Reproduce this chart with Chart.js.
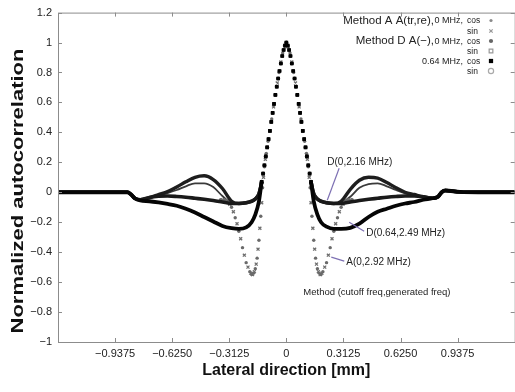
<!DOCTYPE html>
<html>
<head>
<meta charset="utf-8">
<script src="https://cdn.jsdelivr.net/npm/chart.js@4.4.1/dist/chart.umd.min.js"></script>
<style>
  html, body { margin: 0; padding: 0; background: #fff; overflow: hidden; }
  #wrap { width: 520px; height: 392px; position: relative; }
</style>
</head>
<body>
<div id="wrap"><canvas id="chart"></canvas></div>
<script>
// tick labels
const xTickVals = [-0.9375, -0.625, -0.3125, 0, 0.3125, 0.625, 0.9375];
const xTickLabels = ['\u22120.9375', '\u22120.6250', '\u22120.3125', '0', '0.3125', '0.6250', '0.9375'];
const yTickVals = [-1, -0.8, -0.6, -0.4, -0.2, 0, 0.2, 0.4, 0.6, 0.8, 1, 1.2];
const yTickLabels = ['\u22121', '\u22120.8', '\u22120.6', '\u22120.4', '\u22120.2', '0', '0.2', '0.4', '0.6', '0.8', '1', '1.2'];

// Method A, cos (lateral positions in mm)
const xAcos = [-0.36, -0.34, -0.32, -0.3, -0.28, -0.26, -0.24, -0.22, -0.2, -0.19, -0.18, -0.17, -0.16, -0.15, -0.14, -0.13, -0.12, -0.11, -0.1, -0.08, -0.06, -0.04, -0.02,
  0, 0.02, 0.04, 0.06, 0.08, 0.1, 0.11, 0.12, 0.13, 0.14, 0.15, 0.16, 0.17, 0.18, 0.19, 0.2, 0.22, 0.24, 0.26, 0.28, 0.3, 0.32, 0.34, 0.36];
const aCos = [-0.05, -0.05, -0.065, -0.1, -0.17, -0.26, -0.37, -0.47, -0.53, -0.55, -0.54, -0.51, -0.44, -0.32, -0.16, 0.03, 0.17, 0.26, 0.34, 0.49, 0.65, 0.8, 0.93,
  1.0, 0.93, 0.8, 0.65, 0.49, 0.34, 0.26, 0.17, 0.03, -0.16, -0.32, -0.44, -0.51, -0.54, -0.55, -0.53, -0.47, -0.37, -0.26, -0.17, -0.1, -0.065, -0.05, -0.05];

// Method A, sin
const xAsin = [-0.35, -0.33, -0.31, -0.29, -0.27, -0.25, -0.23, -0.21, -0.195, -0.185, -0.175, -0.165, -0.155, -0.145, -0.135, -0.125, -0.115, -0.105, -0.09, -0.07, -0.05, -0.03, -0.01,
  0.01, 0.03, 0.05, 0.07, 0.09, 0.105, 0.115, 0.125, 0.135, 0.145, 0.155, 0.165, 0.175, 0.185, 0.195, 0.21, 0.23, 0.25, 0.27, 0.29, 0.31, 0.33, 0.35];
const aSin = [-0.05, -0.055, -0.08, -0.13, -0.21, -0.31, -0.42, -0.5, -0.54, -0.55, -0.53, -0.48, -0.38, -0.24, -0.07, 0.1, 0.22, 0.3, 0.41, 0.57, 0.73, 0.87, 0.97,
  0.97, 0.87, 0.73, 0.57, 0.41, 0.3, 0.22, 0.1, -0.07, -0.24, -0.38, -0.48, -0.53, -0.55, -0.54, -0.5, -0.42, -0.31, -0.21, -0.13, -0.08, -0.055, -0.05];

// Method D curves share one set of positions (denser in the main lobe)
const xD = [-1.25, -1.15, -1.05, -0.95, -0.87, -0.85, -0.83, -0.8, -0.75, -0.7, -0.65, -0.6, -0.55, -0.5, -0.45, -0.4, -0.35, -0.3, -0.26, -0.22, -0.19, -0.17, -0.15,
  -0.135, -0.1275, -0.12, -0.1125, -0.105, -0.0975, -0.09, -0.0825, -0.075, -0.0675, -0.06, -0.0525, -0.045, -0.0375, -0.03, -0.0225, -0.015, -0.0075,
  0, 0.0075, 0.015, 0.0225, 0.03, 0.0375, 0.045, 0.0525, 0.06, 0.0675, 0.075, 0.0825, 0.09, 0.0975, 0.105, 0.1125, 0.12, 0.1275, 0.135,
  0.15, 0.17, 0.19, 0.22, 0.26, 0.3, 0.35, 0.4, 0.45, 0.5, 0.55, 0.6, 0.65, 0.7, 0.75, 0.8, 0.83, 0.85, 0.87, 0.95, 1.05, 1.15, 1.25];

const d0Cos = [0, 0, 0, 0, 0, -0.015, -0.04, -0.05, -0.035, -0.027, -0.025, -0.028, -0.033, -0.04, -0.047, -0.055, -0.065, -0.075, -0.075, -0.07, -0.06, -0.045, -0.01,
  0.07, 0.125, 0.18, 0.24, 0.3, 0.355, 0.41, 0.47, 0.53, 0.59, 0.65, 0.705, 0.76, 0.81, 0.86, 0.91, 0.95, 0.98,
  1.0, 0.98, 0.95, 0.91, 0.86, 0.81, 0.76, 0.705, 0.65, 0.59, 0.53, 0.47, 0.41, 0.355, 0.3, 0.24, 0.18, 0.125, 0.07,
  -0.01, -0.045, -0.06, -0.07, -0.075, -0.075, -0.065, -0.055, -0.047, -0.04, -0.033, -0.028, -0.025, -0.025, -0.03, -0.04, -0.03, 0.0, 0.012, 0.002, 0, 0, 0];

const d0Sin = [0, 0, 0, 0, 0, -0.015, -0.04, -0.05, -0.035, -0.015, 0.005, 0.035, 0.07, 0.1, 0.11, 0.085, 0.025, -0.06, -0.075, -0.07, -0.06, -0.045, -0.01,
  0.07, 0.125, 0.18, 0.24, 0.3, 0.355, 0.41, 0.47, 0.53, 0.59, 0.65, 0.705, 0.76, 0.81, 0.86, 0.91, 0.95, 0.98,
  1.0, 0.98, 0.95, 0.91, 0.86, 0.81, 0.76, 0.705, 0.65, 0.59, 0.53, 0.47, 0.41, 0.355, 0.3, 0.24, 0.18, 0.125, 0.07,
  -0.01, -0.045, -0.06, -0.07, -0.075, -0.06, 0.02, 0.08, 0.1, 0.095, 0.065, 0.03, 0.0, -0.015, -0.03, -0.04, -0.03, 0.0, 0.012, 0.002, 0, 0, 0];

const d064Cos = [0, 0, 0, 0, 0, -0.015, -0.04, -0.055, -0.06, -0.068, -0.078, -0.09, -0.11, -0.135, -0.165, -0.195, -0.225, -0.24, -0.245, -0.235, -0.2, -0.15, -0.06,
  0.07, 0.125, 0.18, 0.24, 0.3, 0.355, 0.41, 0.47, 0.53, 0.59, 0.65, 0.705, 0.76, 0.81, 0.86, 0.91, 0.95, 0.98,
  1.0, 0.98, 0.95, 0.91, 0.86, 0.81, 0.76, 0.705, 0.65, 0.59, 0.53, 0.47, 0.41, 0.355, 0.3, 0.24, 0.18, 0.125, 0.07,
  -0.06, -0.15, -0.2, -0.23, -0.245, -0.245, -0.238, -0.21, -0.165, -0.13, -0.11, -0.09, -0.075, -0.065, -0.05, -0.04, -0.03, 0.0, 0.012, 0.002, 0, 0, 0];

const d064Sin = [0, 0, 0, 0, 0, -0.015, -0.04, -0.05, -0.035, -0.02, -0.005, 0.015, 0.04, 0.06, 0.06, 0.035, -0.025, -0.07, -0.075, -0.07, -0.06, -0.045, -0.01,
  0.07, 0.125, 0.18, 0.24, 0.3, 0.355, 0.41, 0.47, 0.53, 0.59, 0.65, 0.705, 0.76, 0.81, 0.86, 0.91, 0.95, 0.98,
  1.0, 0.98, 0.95, 0.91, 0.86, 0.81, 0.76, 0.705, 0.65, 0.59, 0.53, 0.47, 0.41, 0.355, 0.3, 0.24, 0.18, 0.125, 0.07,
  -0.01, -0.045, -0.06, -0.07, -0.075, -0.07, -0.03, 0.03, 0.055, 0.06, 0.04, 0.015, -0.008, -0.02, -0.03, -0.04, -0.03, 0.0, 0.012, 0.002, 0, 0, 0];

const seriesNames = ['Method A A(tr,re),0 MHz, cos', 'sin', 'Method D A(\u2212),0 MHz, cos', 'sin', '0.64 MHz, cos', 'sin'];

const FONT = '"Liberation Sans", Arial, Helvetica, sans-serif';
const LOBE = 0.136;

const pts = (xs, ys) => xs.map((x, i) => ({ x: x, y: ys[i] }));
const hideLobe = c => (Math.abs(c.p0.parsed.x) <= LOBE && Math.abs(c.p1.parsed.x) <= LOBE) ? 'rgba(0,0,0,0)' : undefined;

// markers only inside the main lobe, the rest is drawn as a thick line
function lineSet(label, xs, ys, color, width, dotColor, dotStyle, dotR, order) {
  return {
    label: label,
    order: order,
    data: pts(xs, ys),
    showLine: true,
    borderColor: color,
    borderWidth: width,
    cubicInterpolationMode: 'monotone',
    segment: { borderColor: hideLobe },
    pointStyle: dotStyle,
    pointRadius: xs.map(x => Math.abs(x) <= LOBE ? dotR : 0),
    pointBackgroundColor: dotColor,
    pointBorderColor: dotColor,
    pointBorderWidth: 0
  };
}

// legend rows: big text, small text, component, marker
const legendRows = [
  { big: 'Method A A(tr,re),', small: '0 MHz,', comp: 'cos', style: 'circle', r: 1.6, fill: '#8a8a8a', stroke: null },
  { big: '', small: '', comp: 'sin', style: 'crossRot', r: 2.4, fill: null, stroke: '#999' },
  { big: 'Method D A(\u2212),', small: '0 MHz,', comp: 'cos', style: 'circle', r: 2.1, fill: '#666', stroke: null },
  { big: '', small: '', comp: 'sin', style: 'rect', r: 2.6, fill: '#fff', stroke: '#999' },
  { big: '', small: '0.64 MHz,', comp: 'cos', style: 'rect', r: 3, fill: '#000', stroke: null },
  { big: '', small: '', comp: 'sin', style: 'circle', r: 2.6, fill: '#fff', stroke: '#aaa' }
];

const notes = [
  { text: 'D(0,2.16 MHz)', x: 0.224, y: 0.2, from: [0.289, 0.16], to: [0.224, -0.053] },
  { text: 'D(0.64,2.49 MHz)', x: 0.437, y: -0.273, from: [0.426, -0.26], to: [0.344, -0.2] },
  { text: 'A(0,2.92 MHz)', x: 0.328, y: -0.467, from: [0.317, -0.46], to: [0.246, -0.433] },
  { text: 'Method (cutoff freq,generated freq)', x: 0.093, y: -0.667 }
];

const overlay = {
  id: 'overlay',
  afterDraw(chart) {
    const { ctx, chartArea: a, scales: { x, y } } = chart;
    ctx.save();

    // frame and inward ticks
    ctx.strokeStyle = '#8c8c8c';
    ctx.lineWidth = 1;
    ctx.strokeRect(a.left + 0.5, a.top + 0.5, a.right - a.left, a.bottom - a.top);
    ctx.beginPath();
    xTickVals.forEach(v => {
      const px = Math.round(x.getPixelForValue(v)) + 0.5;
      ctx.moveTo(px, a.bottom); ctx.lineTo(px, a.bottom - 4);
      ctx.moveTo(px, a.top); ctx.lineTo(px, a.top + 4);
    });
    yTickVals.forEach(v => {
      const py = Math.round(y.getPixelForValue(v)) + 0.5;
      ctx.moveTo(a.left, py); ctx.lineTo(a.left + 4, py);
      ctx.moveTo(a.right, py); ctx.lineTo(a.right - 4, py);
    });
    ctx.stroke();

    // y axis title, stretched along its length like the original
    ctx.save();
    ctx.translate(18, 191);
    ctx.rotate(-Math.PI / 2);
    ctx.font = 'bold 17px ' + FONT;
    const w = ctx.measureText('Normalized autocorrelation').width;
    ctx.scale(285 / w, 1);
    ctx.fillStyle = '#111';
    ctx.textAlign = 'center';
    ctx.textBaseline = 'middle';
    ctx.fillText('Normalized autocorrelation', 0, 0);
    ctx.restore();

    // annotations
    notes.forEach(n => {
      if (n.from) {
        ctx.strokeStyle = '#7d70b3';
        ctx.lineWidth = 1.2;
        ctx.beginPath();
        ctx.moveTo(x.getPixelForValue(n.from[0]), y.getPixelForValue(n.from[1]));
        ctx.lineTo(x.getPixelForValue(n.to[0]), y.getPixelForValue(n.to[1]));
        ctx.stroke();
      }
      ctx.fillStyle = '#222';
      ctx.font = (n.from ? '10px ' : '9.5px ') + FONT;
      ctx.textAlign = 'left';
      ctx.textBaseline = 'middle';
      ctx.fillText(n.text, x.getPixelForValue(n.x), y.getPixelForValue(n.y));
    });

    // legend
    const rowY = [20.5, 31, 41, 51, 61, 71];
    const bigRight = 434, smallRight = 463, compLeft = 467, markX = 491;
    legendRows.forEach((r, i) => {
      const yy = rowY[i];
      ctx.fillStyle = '#222';
      ctx.textBaseline = 'middle';
      ctx.textAlign = 'right';
      if (r.big) { ctx.font = '11.5px ' + FONT; ctx.fillText(r.big, bigRight, yy); }
      if (r.small) { ctx.font = '9px ' + FONT; ctx.fillText(r.small, smallRight, yy + 0.5); }
      ctx.textAlign = 'left';
      ctx.font = '8.5px ' + FONT;
      ctx.fillText(r.comp, compLeft, yy + 0.5);
      ctx.fillStyle = r.fill || 'rgba(0,0,0,0)';
      ctx.strokeStyle = r.stroke || 'rgba(0,0,0,0)';
      Chart.helpers.drawPoint(ctx, { pointStyle: r.style, radius: r.r, rotation: 0, borderWidth: r.stroke ? 1 : 0 }, markX, yy);
    });

    ctx.restore();
  }
};

new Chart(document.getElementById('chart'), {
  type: 'scatter',
  data: {
    datasets: [
      {
        label: seriesNames[0], order: 2, data: pts(xAcos, aCos), showLine: false,
        pointStyle: 'circle', pointRadius: 1.7, pointBackgroundColor: '#6a6a6a', pointBorderWidth: 0
      },
      {
        label: seriesNames[1], order: 2, data: pts(xAsin, aSin), showLine: false,
        pointStyle: 'crossRot', pointRadius: 2.1, pointBorderColor: '#6f6f6f', pointBorderWidth: 1.3
      },
      lineSet(seriesNames[2], xD, d0Cos, '#1a1a1a', 3.6, '#3a3a3a', 'circle', 2.0, 1),
      lineSet(seriesNames[3], xD, d0Sin, '#1e1e1e', 3.4, '#999', 'rect', 0, 3),
      lineSet(seriesNames[4], xD, d064Cos, '#050505', 3.8, '#000', 'rect', 2.6, 0),
      lineSet(seriesNames[5], xD, d064Sin, '#3a3a3a', 1.8, '#aaa', 'circle', 0, 3)
    ]
  },
  options: {
    responsive: true,
    maintainAspectRatio: false,
    animation: false,
    devicePixelRatio: 1,
    layout: { padding: { left: 0, right: 4, top: 12, bottom: 0 } },
    plugins: {
      legend: { display: false },
      tooltip: { enabled: false }
    },
    scales: {
      x: {
        type: 'linear',
        min: -1.25,
        max: 1.25,
        afterFit: s => { s.height = 50; },
        afterBuildTicks: s => { s.ticks = xTickVals.map(v => ({ value: v })); },
        grid: { display: false, drawTicks: false },
        border: { display: false },
        ticks: {
          autoSkip: false,
          maxRotation: 0,
          padding: 5,
          color: '#222',
          font: { family: FONT, size: 11 },
          callback: (v, i) => xTickLabels[i]
        },
        title: {
          display: true,
          text: 'Lateral direction [mm]',
          color: '#111',
          font: { family: FONT, size: 16, weight: 'bold' },
          padding: { top: 2, bottom: 12 }
        }
      },
      y: {
        type: 'linear',
        min: -1,
        max: 1.2,
        afterFit: s => { s.width = 58; },
        afterBuildTicks: s => { s.ticks = yTickVals.map(v => ({ value: v })); },
        grid: { display: false, drawTicks: false },
        border: { display: false },
        ticks: {
          padding: 6,
          color: '#222',
          font: { family: FONT, size: 11 },
          callback: (v, i) => yTickLabels[i]
        }
      }
    }
  },
  plugins: [overlay]
});
</script>
</body>
</html>
